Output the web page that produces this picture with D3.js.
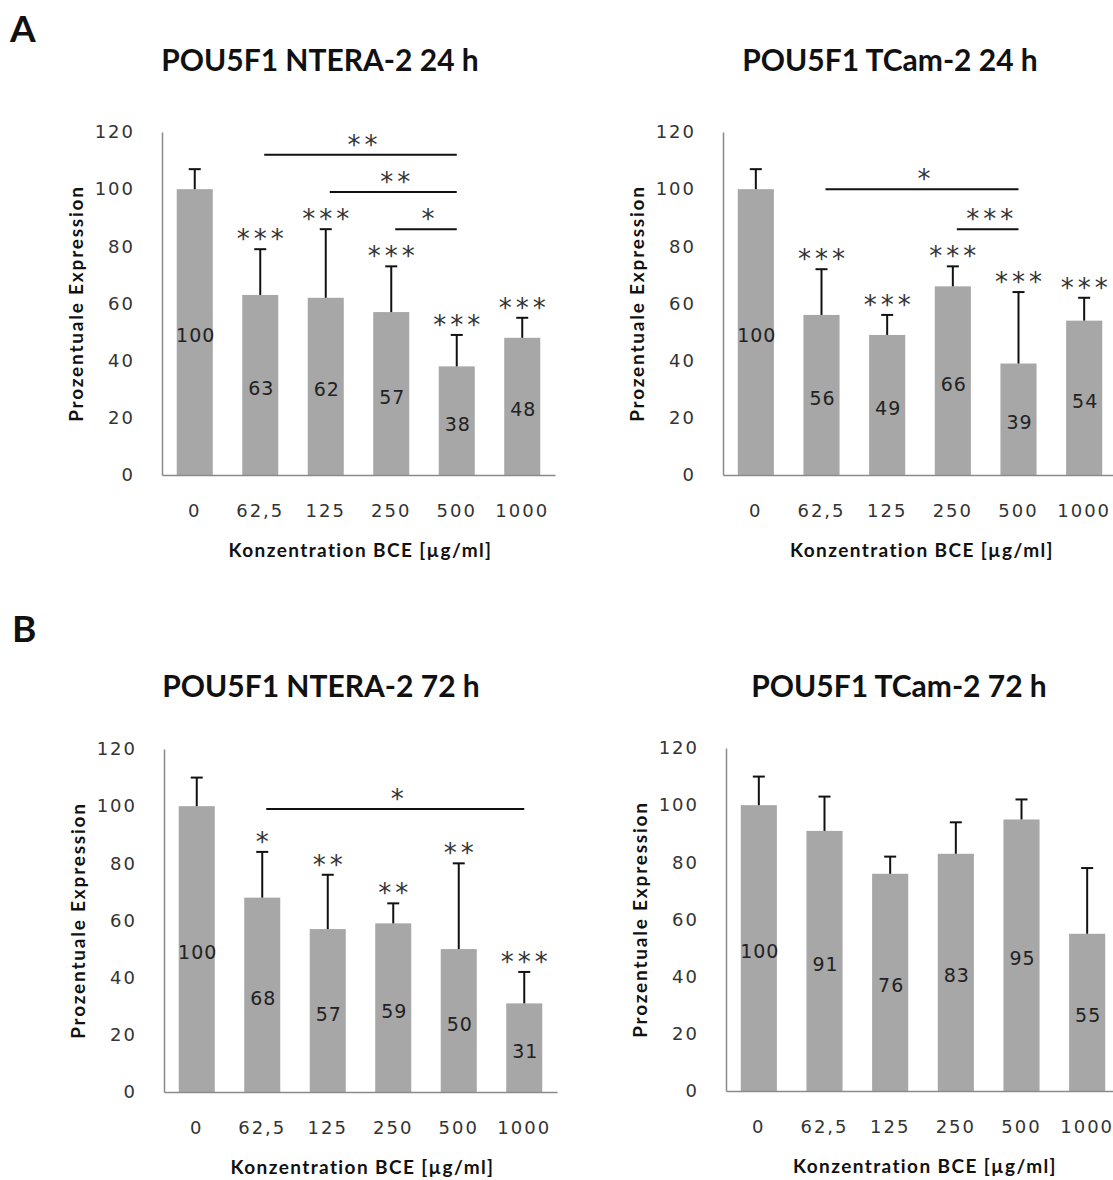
<!DOCTYPE html>
<html>
<head>
<meta charset="utf-8">
<script src="https://cdn.jsdelivr.net/npm/d3@7/dist/d3.min.js"></script>
<style>
    body { margin: 0; background: #fff; }
    .tick-label { font-family: "DejaVu Sans", sans-serif; font-size: 18px; fill: #333; letter-spacing: 2px; }
    .value-label { font-family: "DejaVu Sans", sans-serif; font-size: 19px; fill: #222; letter-spacing: 1px; }
    .plot-title { font-family: Lato, sans-serif; font-weight: bold; font-size: 30px; fill: #111; }
    .panel-letter { font-family: Lato, sans-serif; font-weight: bold; font-size: 37px; fill: #111; }
    .axis-label { font-family: Lato, sans-serif; font-weight: bold; font-size: 19px; fill: #111; }
    .stars { font-family: "DejaVu Sans", sans-serif; font-size: 26px; fill: #333; letter-spacing: 4px; }
</style>
</head>
<body>
<div id="chart"></div>
<script>
"use strict"

// concentrations on the x axis, shared by all four charts
const categories = ["0", "62,5", "125", "250", "500", "1000"]
const yTicks = [0, 20, 40, 60, 80, 100, 120]

// A: 24 h
const nteraValues24 = [100, 63, 62, 57, 38, 48]
const nteraErrors24 = [7, 16, 24, 16, 11, 7]
const nteraStars24 = ["", "***", "***", "***", "***", "***"]
const nteraBrackets24 = [
    { from: "62,5", to: "500", y: 112, label: "**" },
    { from: "125", to: "500", y: 99, label: "**" },
    { from: "250", to: "500", y: 86, label: "*" },
]

const tcamValues24 = [100, 56, 49, 66, 39, 54]
const tcamErrors24 = [7, 16, 7, 7, 25, 8]
const tcamStars24 = ["", "***", "***", "***", "***", "***"]
const tcamBrackets24 = [
    { from: "62,5", to: "500", y: 100, label: "*" },
    { from: "250", to: "500", y: 86, label: "***" },
]

// B: 72 h
const nteraValues72 = [100, 68, 57, 59, 50, 31]
const nteraErrors72 = [10, 16, 19, 7, 30, 11]
const nteraStars72 = ["", "*", "**", "**", "**", "***"]
const nteraBrackets72 = [
    { from: "62,5", to: "1000", y: 99, label: "*" },
]

const tcamValues72 = [100, 91, 76, 83, 95, 55]
const tcamErrors72 = [10, 12, 6, 11, 7, 23]
const tcamStars72 = ["", "", "", "", "", ""]
const tcamBrackets72 = []

const titles = ["POU5F1 NTERA-2 24 h", "POU5F1 TCam-2 24 h", "POU5F1 NTERA-2 72 h", "POU5F1 TCam-2 72 h"]
const xLabel = "Konzentration BCE [µg/ml]"
const yLabel = "Prozentuale Expression"

const expressionCharts = (function() {

    const W = 1113, H = 1180

    const svg = d3.select("#chart")
                    .append("svg")
                        .attr("width", W)
                        .attr("height", H)
                        .attr("viewBox", `0 0 ${ W } ${ H }`)

    function panel(opts) {
        const f = opts.frame
        const x = d3.scaleBand()
                    .domain(categories)
                    .range([f.l, f.r])
                    .paddingInner(0.45)
                    .paddingOuter(0.225)
        const y = d3.scaleLinear()
                    .domain([0, 120])
                    .range([f.b, f.t])
        const cx = c => x(c) + x.bandwidth() / 2
        const rows = categories.map((c, i) => ({
            cat: c, v: opts.values[i], e: opts.errors[i], s: opts.stars[i]
        }))

        const g = svg.append("g")

        // title
        g.append("text")
            .attr("class", "plot-title")
            .attr("text-anchor", "middle")
            .attr("x", f.titleX)
            .attr("y", f.titleY)
            .text(opts.title)

        // bars
        g.selectAll(".bar")
            .data(rows)
            .enter().append("rect")
                .attr("class", "bar")
                .attr("x", d => x(d.cat))
                .attr("width", x.bandwidth())
                .attr("y", d => y(d.v))
                .attr("height", d => y(0) - y(d.v))
                .attr("fill", "#a7a7a7")

        // error bars (upper only)
        const err = g.selectAll(".err")
                        .data(rows)
                        .enter().append("g")
                            .attr("class", "err")
                            .attr("stroke", "#111")
                            .attr("stroke-width", 2)
        err.append("line")
            .attr("x1", d => cx(d.cat)).attr("x2", d => cx(d.cat))
            .attr("y1", d => y(d.v)).attr("y2", d => y(d.v + d.e))
        err.append("line")
            .attr("x1", d => cx(d.cat) - 6).attr("x2", d => cx(d.cat) + 6)
            .attr("y1", d => y(d.v + d.e)).attr("y2", d => y(d.v + d.e))

        // value labels in the middle of each bar
        g.selectAll(".value-label")
            .data(rows)
            .enter().append("text")
                .attr("class", "value-label")
                .attr("text-anchor", "middle")
                .attr("x", d => cx(d.cat) + 1)
                .attr("y", d => y(d.v / 2) + 10)
                .text(d => d.v)

        // significance stars above error bars
        g.selectAll(".stars")
            .data(rows.filter(d => d.s))
            .enter().append("text")
                .attr("class", "stars")
                .attr("text-anchor", "middle")
                .attr("x", d => cx(d.cat) + 2)
                .attr("y", d => y(d.v + d.e) - 1)
                .text(d => d.s)

        // comparison brackets
        const br = g.selectAll(".bracket")
                        .data(opts.brackets)
                        .enter().append("g")
                            .attr("class", "bracket")
        br.append("line")
            .attr("x1", d => cx(d.from) + 4)
            .attr("x2", d => cx(d.to))
            .attr("y1", d => y(d.y)).attr("y2", d => y(d.y))
            .attr("stroke", "#111")
            .attr("stroke-width", 2)
        br.append("text")
            .attr("class", "stars")
            .attr("text-anchor", "middle")
            .attr("x", d => (cx(d.from) + cx(d.to)) / 2 + 6)
            .attr("y", d => y(d.y) - 1)
            .text(d => d.label)

        // y axis
        const yAx = d3.axisLeft(y)
                        .tickValues(yTicks)
                        .tickSize(0)
                        .tickPadding(27)
        g.append("g")
            .attr("class", "axis y-axis")
            .attr("transform", `translate(${ f.l }, 0)`)
            .call(yAx)
            .call(a => a.select(".domain").attr("stroke", "#8a8a8a").attr("stroke-width", 1.5))
            .call(a => a.selectAll("text").attr("class", "tick-label").attr("fill", null).attr("font-family", null).attr("font-size", null))

        // x axis
        const xAx = d3.axisBottom(x)
                        .tickSize(0)
                        .tickPadding(29)
        g.append("g")
            .attr("class", "axis x-axis")
            .attr("transform", `translate(0, ${ f.b })`)
            .call(xAx)
            .call(a => a.select(".domain").attr("stroke", "#8a8a8a").attr("stroke-width", 1.5))
            .call(a => a.selectAll("text").attr("class", "tick-label").attr("fill", null).attr("font-family", null).attr("font-size", null))

        // axis labels
        g.append("text")
            .attr("class", "axis-label")
            .attr("text-anchor", "middle")
            .attr("letter-spacing", "1.4px")
            .attr("x", (f.l + f.r) / 2 + 2)
            .attr("y", f.b + 82)
            .text(xLabel)

        g.append("text")
            .attr("class", "axis-label")
            .attr("text-anchor", "middle")
            .attr("letter-spacing", "1.8px")
            .attr("transform", `translate(${ f.l - 79 }, ${ (f.t + f.b) / 2 }) rotate(-90)`)
            .text(yLabel)
    }

    function build() {
        svg.append("text").attr("class", "panel-letter").attr("x", 10).attr("y", 42).text("A")
        svg.append("text").attr("class", "panel-letter").attr("x", 12).attr("y", 642).text("B")

        panel({ title: titles[0], values: nteraValues24, errors: nteraErrors24, stars: nteraStars24, brackets: nteraBrackets24,
                frame: { l: 162, r: 555, t: 132, b: 475, titleX: 320, titleY: 71 } })
        panel({ title: titles[1], values: tcamValues24, errors: tcamErrors24, stars: tcamStars24, brackets: tcamBrackets24,
                frame: { l: 723, r: 1117, t: 132, b: 475, titleX: 890, titleY: 71 } })
        panel({ title: titles[2], values: nteraValues72, errors: nteraErrors72, stars: nteraStars72, brackets: nteraBrackets72,
                frame: { l: 164, r: 557, t: 749, b: 1092, titleX: 321, titleY: 697 } })
        panel({ title: titles[3], values: tcamValues72, errors: tcamErrors72, stars: tcamStars72, brackets: tcamBrackets72,
                frame: { l: 726, r: 1120, t: 748, b: 1091, titleX: 899, titleY: 697 } })
    }

    return { build: build }

}())

expressionCharts.build()
</script>
</body>
</html>
